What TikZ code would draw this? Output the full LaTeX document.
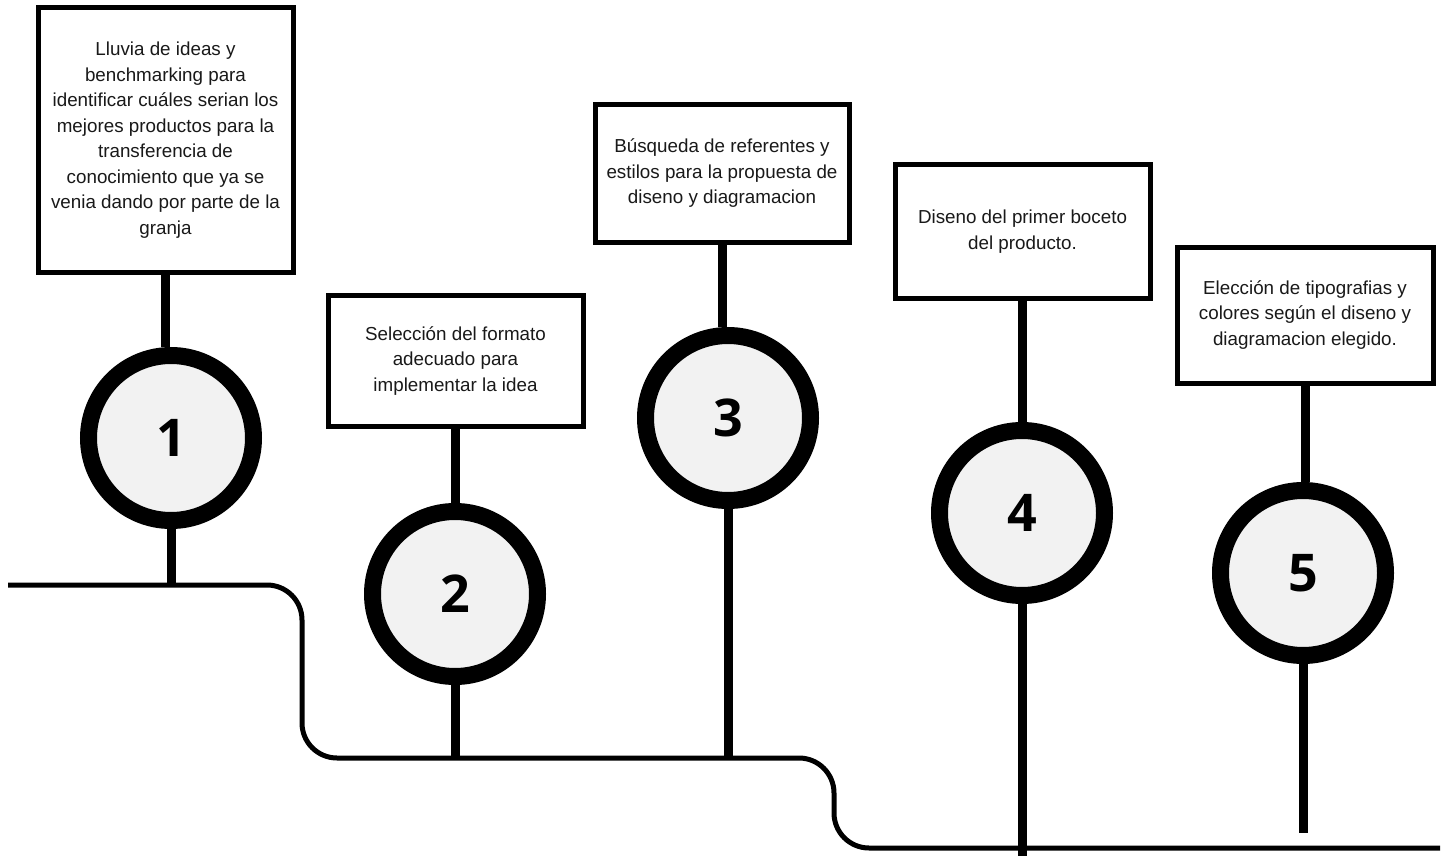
\documentclass[tikz,border=0pt]{standalone}
\usepackage{fontspec}
\setmainfont{Liberation Sans}
\newfontfamily\numfont{Open Sans}
\definecolor{ringfill}{HTML}{F2F2F2}

\begin{document}
\begin{tikzpicture}[x=0.5pt,y=-0.5pt,
   card/.style={draw,line width=2.5pt,fill=white,align=center,inner sep=0pt,
        font=\fontsize{9.4}{12.75}\selectfont,text=black!90},
   ring/.style={circle,draw,line width=8.5pt,fill=ringfill,minimum size=82.5pt,
        inner sep=0pt,font=\numfont\bfseries\fontsize{26}{30}\selectfont},
   stem/.style={line width=4.5pt},
   track/.style={line width=2.5pt,rounded corners=17.5pt}]
   \useasboundingbox (0,0) rectangle (1447,856);
% Track with its steps
   \coordinate (start) at (8,585);
   \coordinate (bend1) at (302,585);
   \coordinate (bend2) at (302,758);
   \coordinate (bend3) at (834,758);
   \coordinate (bend4) at (834,848);
   \coordinate (stop)  at (1440,848);
   \draw [track] (start) -- (bend1) -- (bend2) -- (bend3) -- (bend4) -- (stop);
% Cards
   \node [card,minimum width=127.5pt,minimum height=132pt] (b1) at (165.5,140)
        {Lluvia de ideas y\\benchmarking para\\identificar cuáles serian los\\mejores productos para la\\transferencia de\\conocimiento que ya se\\venia dando por parte de la\\granja};
   \node [card,minimum width=127.5pt,minimum height=65.5pt] (b2) at (455.5,361)
        {Selección del formato\\adecuado para\\implementar la idea};
   \node [card,minimum width=127pt,minimum height=69pt] (b3) at (722,173.5)
        {Búsqueda de referentes y\\estilos para la propuesta de\\diseno y diagramacion};
   \node [card,minimum width=127.5pt,minimum height=66.5pt] (b4) at (1022.5,231.5)
        {Diseno del primer boceto\\del producto.};
   \node [card,minimum width=128pt,minimum height=68pt] (b5) at (1305,315)
        {Elección de tipografias y\\colores según el diseno y\\diagramacion elegido.};
% Steps (circles)
   \node [ring] (c1) at (171,438)  {1};
   \node [ring] (c2) at (455,594)  {2};
   \node [ring] (c3) at (728,418)  {3};
   \node [ring] (c4) at (1022,513) {4};
   \node [ring] (c5) at (1303,573) {5};
% Free ends below the last two circles
   \coordinate (e4) at (1022,856);
   \coordinate (e5) at (1303,833);
% Stems
   \draw [stem] (b1.south) -- (b1.south |- c1.north);
   \draw [stem] (b2.south) -- (b2.south |- c2.north);
   \draw [stem] (b3.south) -- (b3.south |- c3.north);
   \draw [stem] (b4.south) -- (b4.south |- c4.north);
   \draw [stem] (b5.south) -- (b5.south |- c5.north);
   \draw [stem] (c1.south) -- (c1.south |- start);
   \draw [stem] (c2.south) -- (c2.south |- bend2);
   \draw [stem] (c3.south) -- (c3.south |- bend3);
   \draw [stem] (c4.south) -- (e4);
   \draw [stem] (c5.south) -- (e5);
\end{tikzpicture}
\end{document}
